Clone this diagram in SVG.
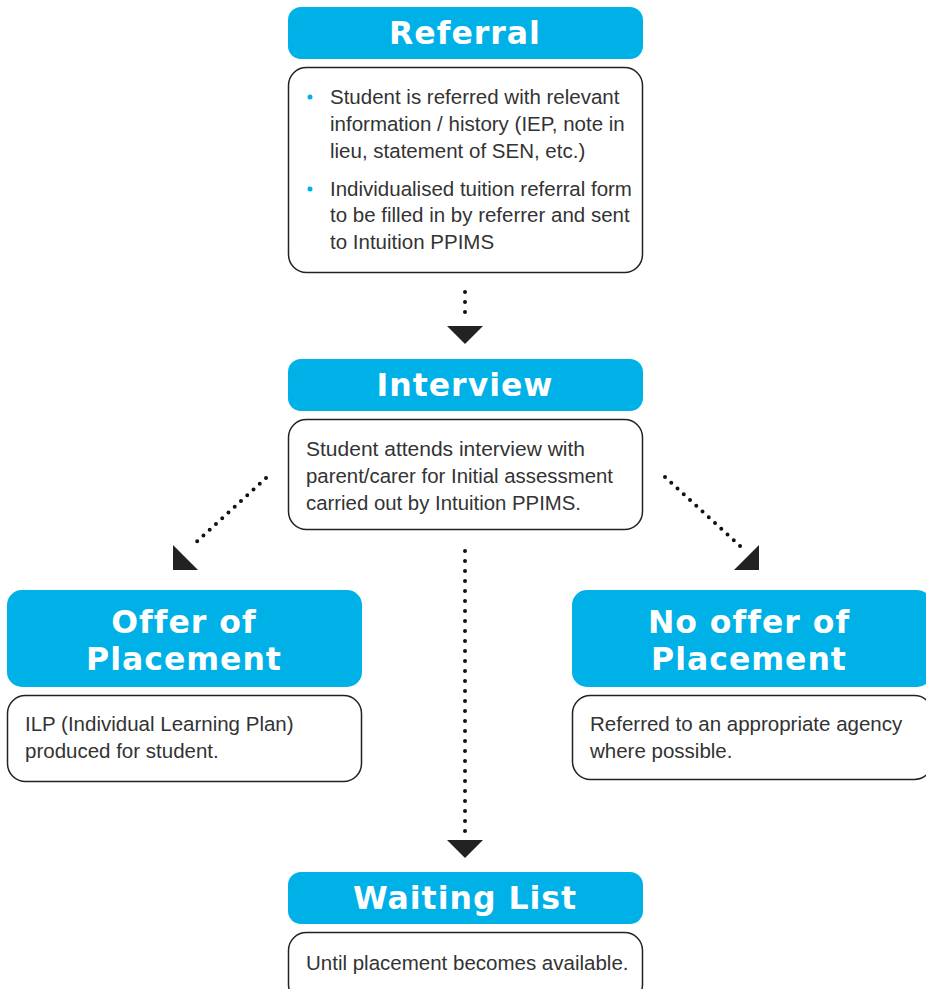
<svg xmlns="http://www.w3.org/2000/svg" width="926" height="989" viewBox="0 0 926 989">
<style>
.hdr{fill:#00b1e7;}
.box{fill:#fff;stroke:#222;stroke-width:1.5;}
.ht{font-family:"DejaVu Sans",sans-serif;font-weight:bold;font-size:31.5px;fill:#fff;text-anchor:middle;letter-spacing:1px;}
.bt{font-family:"Liberation Sans",Arial,sans-serif;font-size:20.5px;fill:#333;}
.bul{fill:#00b1e7;}
.dot{stroke:#111;stroke-width:4;stroke-linecap:round;stroke-dasharray:0 10;fill:none;}
.dotd{stroke:#111;stroke-width:4;stroke-linecap:round;stroke-dasharray:0 8.5;fill:none;}
.tri{fill:#222;}
</style>
<g id="connectors">
<line class="dot" x1="465" y1="292" x2="465" y2="318"/>
<polygon class="tri" points="447,326 483,326 465,344"/>
<line class="dotd" x1="266" y1="478" x2="191" y2="547"/>
<polygon class="tri" points="173,545 173,570 198,570"/>
<line class="dotd" x1="665" y1="477" x2="741" y2="547"/>
<polygon class="tri" points="759,545 759,570 734,570"/>
<line class="dot" x1="465" y1="551" x2="465" y2="832"/>
<polygon class="tri" points="447,840 483,840 465,858"/>
</g>
<g id="referral">
<rect class="hdr" x="288" y="7" width="355" height="52" rx="13"/>
<text class="ht" x="465" y="44">Referral</text>
<rect class="box" x="288.5" y="67.5" width="354" height="205" rx="18"/>
<circle class="bul" cx="310" cy="97" r="2.5"/>
<text class="bt" x="330" y="104">Student is referred with relevant</text>
<text class="bt" x="330" y="131">information / history (IEP, note in</text>
<text class="bt" x="330" y="158">lieu, statement of SEN, etc.)</text>
<circle class="bul" cx="310" cy="189" r="2.5"/>
<text class="bt" x="330" y="196">Individualised tuition referral form</text>
<text class="bt" x="330" y="222">to be filled in by referrer and sent</text>
<text class="bt" x="330" y="249">to Intuition PPIMS</text>
</g>
<g id="interview">
<rect class="hdr" x="288" y="359" width="355" height="52" rx="13"/>
<text class="ht" x="465" y="396">Interview</text>
<rect class="box" x="288.5" y="419.5" width="354" height="110" rx="18"/>
<text class="bt" x="306" y="456" textLength="279" lengthAdjust="spacingAndGlyphs">Student attends interview with</text>
<text class="bt" x="306" y="483" textLength="307" lengthAdjust="spacingAndGlyphs">parent/carer for Initial assessment</text>
<text class="bt" x="306" y="510" textLength="275" lengthAdjust="spacingAndGlyphs">carried out by Intuition PPIMS.</text>
</g>
<g id="offer">
<rect class="hdr" x="7" y="590" width="355" height="97" rx="15"/>
<text class="ht" x="184" y="633">Offer of</text>
<text class="ht" x="184" y="670">Placement</text>
<rect class="box" x="7.5" y="695.5" width="354" height="86" rx="18"/>
<text class="bt" x="25" y="731">ILP (Individual Learning Plan)</text>
<text class="bt" x="25" y="758">produced for student.</text>
</g>
<g id="nooffer">
<rect class="hdr" x="572" y="590" width="360" height="97" rx="15"/>
<text class="ht" x="749" y="633">No offer of</text>
<text class="ht" x="749" y="670">Placement</text>
<rect class="box" x="572.5" y="695.5" width="360" height="84" rx="18"/>
<text class="bt" x="590" y="731">Referred to an appropriate agency</text>
<text class="bt" x="590" y="758">where possible.</text>
</g>
<g id="waiting">
<rect class="hdr" x="288" y="872" width="355" height="52" rx="13"/>
<text class="ht" x="465" y="909">Waiting List</text>
<rect class="box" x="288.5" y="932.5" width="354" height="70" rx="18"/>
<text class="bt" x="306" y="970">Until placement becomes available.</text>
</g>
</svg>
